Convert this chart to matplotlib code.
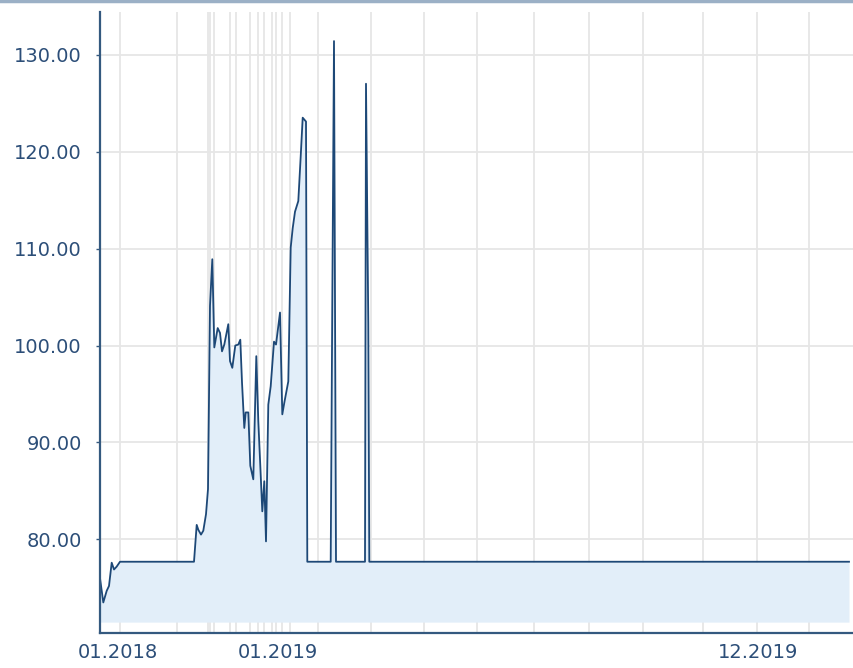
import numpy as np
import matplotlib.pyplot as plt
from matplotlib.lines import Line2D

# positions on the (ordinal) time axis and the values
pos = [100, 103.3, 106.7, 109, 111.7, 114, 116.7, 120, 194, 196.7, 198.3, 201,
       203.3, 206, 208, 210, 212.3, 214.3, 217.7, 220, 222, 224.3, 228.3, 230,
       232.3, 235.3, 238.3, 240.3, 242, 244.3, 245.7, 248.3, 250.3, 253.3,
       256.3, 258.3, 260.3, 262.3, 264.3, 266, 268.3, 270.7, 274, 276, 280,
       282.3, 284.3, 288.3, 290.7, 292.7, 295, 298.3, 300.7, 302.7, 306,
       307.3, 330.7, 332.3, 334, 336, 365, 366, 368.3, 369.3, 849]
values = [76.0, 73.5, 74.7, 75.2, 77.6, 76.9, 77.2, 77.7, 77.7, 81.5, 81.0, 80.5,
          80.9, 82.6, 85.2, 104.1, 108.9, 99.8, 101.8, 101.3, 99.4, 100.1, 102.2,
          98.4, 97.7, 100.0, 100.1, 100.6, 96.2, 91.5, 93.1, 93.1, 87.6, 86.2,
          98.9, 92.2, 87.6, 82.9, 86.0, 79.8, 93.9, 95.8, 100.4, 100.1, 103.4,
          92.9, 94.1, 96.3, 110.1, 112.1, 113.8, 114.9, 119.5, 123.5, 123.1,
          77.7, 77.7, 104.5, 131.4, 77.7, 77.7, 127.0, 102.3, 77.7, 77.7]

# month boundaries (vertical grid lines)
month_pos = [120, 176.5, 208.3, 210.5, 214, 230, 236, 250.5, 258, 264.2, 272.2,
             275.7, 282.2, 290.2, 318.3, 370.7, 424.3, 476.7, 534.3, 588.7,
             642.7, 702.7, 756.7, 809]
label_pos = [118, 278, 758]
label_text = ["01.2018", "01.2019", "12.2019"]
y_ticks = [80, 90, 100, 110, 120, 130]

BASE = 71.47
LINE = "#1d4877"
FILL = "#e2eef9"
AXIS = "#34597f"
TEXT = "#2c4e78"
GRID = "#e6e6e6"

fig = plt.figure(figsize=(8.54, 6.68), dpi=100)
ax = fig.add_axes([100 / 854, 35 / 668, 754 / 854, 621 / 668])

ax.set_xlim(100, 854)
ax.set_ylim(70.35, 134.4)

for m in month_pos:
    ax.axvline(m, color=GRID, lw=1.3, zorder=0)
for t in y_ticks:
    ax.axhline(t, color=GRID, lw=1.3, zorder=0)

ax.fill_between(pos, values, BASE, color=FILL, lw=0, zorder=1)
ax.plot(pos, values, color=LINE, lw=1.3, zorder=2, solid_joinstyle="round")

for side in ["top", "right"]:
    ax.spines[side].set_visible(False)
ax.spines["left"].set_color(AXIS)
ax.spines["bottom"].set_color(AXIS)
ax.spines["left"].set_linewidth(1.6)
ax.spines["bottom"].set_linewidth(1.6)

ax.set_yticks(y_ticks)
ax.set_yticklabels([f"{t:.2f}" for t in y_ticks])
ax.tick_params(axis="y", length=3, width=1, color=AXIS, labelcolor=TEXT,
               labelsize=14, pad=10)
ax.set_xticks(label_pos)
ax.set_xticklabels(label_text)
ax.tick_params(axis="x", length=0, labelcolor=TEXT, labelsize=14, pad=7)

# thin band along the top edge
fig.add_artist(Line2D([0, 1], [0.998, 0.998], color="#9bb0c6", lw=2.5,
                      transform=fig.transFigure))

fig.savefig("out.png", dpi=100)
